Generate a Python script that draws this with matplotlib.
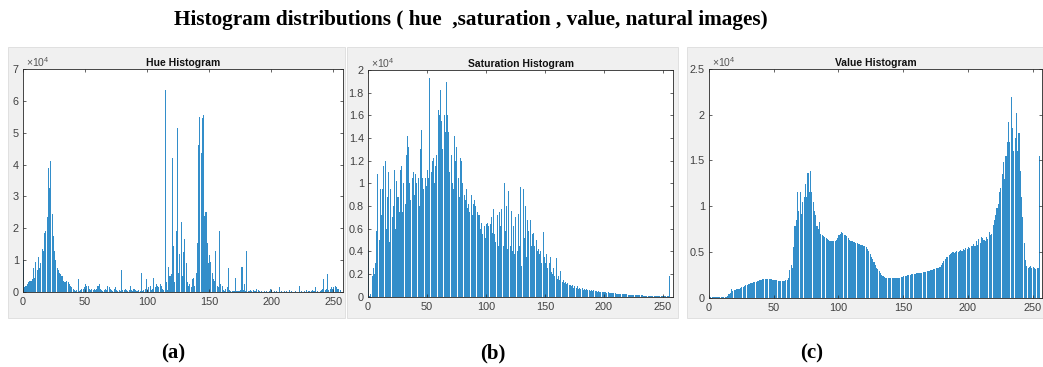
import numpy as np
import matplotlib
matplotlib.use("Agg")
import matplotlib.pyplot as plt
from matplotlib.patches import Rectangle

plt.rcParams["font.family"] = ["Liberation Sans", "DejaVu Sans"]
plt.rcParams["mathtext.fontset"] = "custom"
plt.rcParams["mathtext.rm"] = "Liberation Sans"

# counts per bin, in units of 1e4
hue_counts = [
    1.0, 0.15, 0.2, 0.25, 0.3, 0.35, 0.35, 0.4, 0.75, 0.45, 0.95, 0.7, 1.1, 0.75, 0.9, 1.35,
    1.3, 1.85, 1.9, 2.35, 3.9, 3.25, 4.1, 2.45, 1.75, 1.3, 1.0, 0.75, 0.7, 0.6, 0.55, 0.5,
    0.35, 0.3, 0.3, 0.35, 0.3, 0.25, 0.2, 0.15, 0.1, 0.05, 0.02, 0.05, 0.4, 0.03, 0.05, 0.1,
    0.1, 0.15, 0.25, 0.2, 0.2, 0.1, 0.05, 0.08, 0.05, 0.1, 0.05, 0.1, 0.2, 0.25, 0.1, 0.05,
    0.03, 0.05, 0.1, 0.05, 0.2, 0.15, 0.1, 0.05, 0.03, 0.1, 0.15, 0.05, 0.03, 0.05, 0.03, 0.7,
    0.05, 0.05, 0.08, 0.05, 0.03, 0.05, 0.2, 0.05, 0.02, 0.1, 0.05, 0.02, 0.03, 0.05, 0.02, 0.6,
    0.03, 0.05, 0.1, 0.4, 0.05, 0.15, 0.2, 0.05, 0.1, 0.45, 0.15, 0.25, 0.2, 0.15, 0.25, 0.2,
    0.1, 0.05, 6.35, 0.3, 0.05, 0.8, 0.5, 0.55, 4.2, 1.45, 0.3, 1.9, 5.15, 0.6, 1.2, 2.2,
    0.5, 1.25, 1.65, 0.9, 0.3, 0.2, 0.25, 0.15, 0.4, 0.45, 0.2, 0.6, 1.55, 4.6, 5.5, 4.35,
    5.45, 5.55, 2.4, 2.5, 1.55, 0.9, 1.15, 0.95, 0.6, 0.4, 0.35, 1.3, 0.2, 0.15, 1.9, 0.25,
    0.2, 0.05, 0.03, 0.1, 0.15, 0.75, 0.05, 0.02, 0.02, 0.03, 0.02, 0.45, 0.03, 0.02, 0.02, 0.05,
    0.8, 0.05, 0.25, 0.03, 1.3, 0.03, 0.02, 0.05, 0.02, 0.05, 0.02, 0.03, 0.1, 0.05, 0.02, 0.01,
    0.02, 0.01, 0.02, 0.01, 0.02, 0.01, 0.03, 0.1, 0.05, 0.01, 0.02, 0.01, 0.02, 0.01, 0.15, 0.01,
    0.02, 0.01, 0.02, 0.01, 0.02, 0.01, 0.05, 0.01, 0.02, 0.01, 0.01, 0.02, 0.01, 0.01, 0.2, 0.01,
    0.02, 0.01, 0.02, 0.01, 0.07, 0.01, 0.02, 0.01, 0.02, 0.07, 0.03, 0.15, 0.01, 0.02, 0.01, 0.03,
    0.05, 0.1, 0.4, 0.05, 0.1, 0.55, 0.05, 0.1, 0.15, 0.1, 0.15, 0.2, 0.15, 0.1, 0.1, 0.05,
]

sat_counts = [
    0.41, 0.01, 0.02, 0.18, 0.25, 0.2, 0.3, 0.58, 1.08, 0.5, 0.95, 0.72, 0.95, 1.15, 1.2, 0.6,
    0.88, 1.1, 0.48, 0.95, 0.7, 0.8, 1.12, 0.6, 1.02, 0.88, 0.75, 1.12, 1.15, 0.75, 1.0, 0.82,
    1.25, 1.42, 1.32, 1.0, 0.85, 1.05, 1.1, 0.9, 1.08, 1.0, 1.05, 0.8, 1.3, 1.47, 1.05, 0.95,
    1.05, 0.98, 1.12, 1.05, 1.93, 1.1, 1.2, 1.22, 1.0, 1.15, 1.25, 1.65, 1.6, 1.82, 1.55, 1.3,
    1.6, 1.45, 1.89, 1.6, 1.45, 1.1, 1.25, 1.0, 0.95, 1.42, 1.2, 1.32, 1.05, 0.88, 1.22, 1.2,
    1.0, 0.9, 0.85, 0.95, 0.78, 0.82, 0.75, 0.9, 0.72, 0.82, 0.85, 0.8, 0.75, 0.72, 0.72, 0.6,
    0.65, 0.55, 0.62, 0.52, 0.64, 0.65, 0.62, 0.64, 0.7, 0.56, 0.77, 0.55, 0.48, 0.72, 0.45, 0.75,
    0.62, 0.77, 0.45, 1.0, 0.58, 0.8, 0.42, 0.93, 0.45, 0.76, 0.4, 0.62, 0.38, 0.7, 0.4, 0.73,
    0.45, 0.97, 0.27, 0.95, 0.52, 0.8, 0.35, 0.68, 0.58, 0.68, 0.45, 0.55, 0.56, 0.45, 0.5, 0.4,
    0.42, 0.38, 0.4, 0.3, 0.57, 0.35, 0.3, 0.38, 0.25, 0.3, 0.35, 0.22, 0.2, 0.25, 0.18, 0.34,
    0.16, 0.18, 0.15, 0.23, 0.13, 0.15, 0.12, 0.13, 0.11, 0.12, 0.1, 0.1, 0.09, 0.1, 0.08, 0.09,
    0.08, 0.09, 0.07, 0.08, 0.07, 0.08, 0.06, 0.07, 0.06, 0.07, 0.06, 0.06, 0.05, 0.06, 0.05, 0.06,
    0.05, 0.05, 0.045, 0.05, 0.045, 0.045, 0.04, 0.045, 0.04, 0.04, 0.035, 0.04, 0.035, 0.035, 0.03, 0.035,
    0.03, 0.03, 0.028, 0.028, 0.025, 0.025, 0.022, 0.024, 0.02, 0.022, 0.02, 0.02, 0.018, 0.018, 0.016, 0.016,
    0.015, 0.015, 0.014, 0.013, 0.013, 0.012, 0.012, 0.011, 0.011, 0.01, 0.01, 0.01, 0.009, 0.009, 0.008, 0.008,
    0.008, 0.007, 0.007, 0.006, 0.006, 0.006, 0.005, 0.005, 0.005, 0.004, 0.004, 0.004, 0.003, 0.003, 0.003, 0.18,
]

val_counts = [
    0.003, 0.003, 0.003, 0.003, 0.003, 0.003, 0.003, 0.003, 0.003, 0.003, 0.003, 0.003, 0.003, 0.005, 0.02, 0.04,
    0.05, 0.09, 0.07, 0.08, 0.08, 0.09, 0.1, 0.1, 0.11, 0.12, 0.12, 0.13, 0.14, 0.14, 0.15, 0.15,
    0.16, 0.16, 0.17, 0.17, 0.17, 0.18, 0.18, 0.19, 0.19, 0.2, 0.2, 0.2, 0.2, 0.2, 0.2, 0.2,
    0.2, 0.19, 0.19, 0.19, 0.19, 0.18, 0.18, 0.18, 0.18, 0.18, 0.18, 0.19, 0.19, 0.22, 0.3, 0.36,
    0.33, 0.55, 0.78, 0.85, 1.16, 0.95, 1.16, 0.92, 1.05, 1.1, 1.24, 1.1, 1.36, 1.15, 1.39, 1.15,
    1.05, 0.95, 0.9, 0.78, 0.75, 0.83, 0.7, 0.68, 0.67, 0.66, 0.65, 0.64, 0.63, 0.62, 0.62, 0.62,
    0.62, 0.62, 0.63, 0.65, 0.68, 0.7, 0.72, 0.71, 0.69, 0.68, 0.67, 0.65, 0.63, 0.62, 0.62, 0.61,
    0.61, 0.6, 0.6, 0.59, 0.59, 0.58, 0.58, 0.57, 0.56, 0.55, 0.53, 0.51, 0.48, 0.45, 0.42, 0.39,
    0.36, 0.33, 0.31, 0.29, 0.27, 0.25, 0.24, 0.23, 0.22, 0.22, 0.21, 0.21, 0.21, 0.21, 0.21, 0.21,
    0.21, 0.22, 0.22, 0.22, 0.23, 0.23, 0.24, 0.24, 0.24, 0.25, 0.25, 0.25, 0.26, 0.26, 0.26, 0.26,
    0.27, 0.27, 0.27, 0.27, 0.27, 0.28, 0.28, 0.28, 0.29, 0.29, 0.29, 0.3, 0.3, 0.31, 0.31, 0.32,
    0.32, 0.33, 0.34, 0.36, 0.38, 0.4, 0.42, 0.44, 0.45, 0.47, 0.48, 0.49, 0.5, 0.49, 0.5, 0.51,
    0.5, 0.51, 0.52, 0.51, 0.53, 0.52, 0.54, 0.53, 0.55, 0.54, 0.57, 0.56, 0.59, 0.57, 0.62, 0.58,
    0.64, 0.6, 0.66, 0.65, 0.63, 0.62, 0.66, 0.64, 0.72, 0.68, 0.7, 0.8, 0.85, 0.9, 0.98, 1.02,
    1.15, 1.2, 1.35, 1.48, 1.3, 1.55, 1.7, 1.92, 1.7, 2.19, 1.85, 1.6, 1.75, 2.02, 1.6, 1.8,
    1.39, 1.1, 0.88, 0.6, 0.41, 0.35, 0.33, 0.34, 0.35, 0.33, 0.34, 0.32, 0.31, 0.33, 0.32, 1.55,
]

panel_titles = ["Hue Histogram", "Saturation Histogram", "Value Histogram"]
y_ticks = [np.arange(0, 7.01, 1), np.arange(0, 2.01, 0.2), np.arange(0, 2.51, 0.5)]
y_limits = [7, 2, 2.5]
x_limits = [257.8, 258.5, 257.5]
sub_labels = ["(a)", "(b)", "(c)"]

W, H = 1043, 367
fig = plt.figure(figsize=(W / 100, H / 100), dpi=100)
fig.patch.set_facecolor("white")

def box(x0, y0, x1, y1):
    # pixel box (top-left origin) -> figure fraction rect
    return [x0 / W, 1 - y1 / H, (x1 - x0) / W, (y1 - y0) / H]

# grey MATLAB figure backgrounds
for x0, x1 in [(8, 345), (347, 678), (687, 1043)]:
    r = box(x0, 47, x1, 318)
    fig.patches.append(Rectangle((r[0], r[1]), r[2], r[3], transform=fig.transFigure,
                                 facecolor="#f0f0f0", edgecolor="#dcdcdc", lw=0.6, zorder=-5))

axes_px = [(23, 69, 343, 292), (368, 70, 673, 296.7), (709, 69, 1042.4, 297.7)]
data = [hue_counts, sat_counts, val_counts]
ink = "#262626"

for i in range(3):
    ax = fig.add_axes(box(*axes_px[i]))
    ax.set_facecolor("white")
    vals = np.array(data[i])
    ax.bar(np.arange(len(vals)), vals, width=0.85, color="#0072BD", alpha=0.8,
           linewidth=0, align="edge")
    ax.set_xlim(0, x_limits[i])
    ax.set_ylim(0, y_limits[i])
    ax.set_xticks([0, 50, 100, 150, 200, 250])
    ax.set_yticks(y_ticks[i])
    ax.set_yticklabels(["%g" % round(t, 2) for t in y_ticks[i]])
    ax.tick_params(direction="in", length=2.5, width=0.5, color=ink, labelcolor="#404040",
                   labelsize=7.8, top=True, right=True)
    ax.tick_params(axis="x", pad=3.5)
    ax.tick_params(axis="y", pad=3)
    for s in ax.spines.values():
        s.set_color(ink)
        s.set_linewidth(0.6)
    ax.set_title(panel_titles[i], fontsize=7.5, fontweight="bold", color="#111111", pad=2)
    ax.text(0.01, 1.0, r"$\times 10^{4}$", transform=ax.transAxes, fontsize=7.5,
            color="#555555", va="bottom", ha="left")

fig.text(471 / W, 1 - 20 / H, "Histogram distributions ( hue  ,saturation , value, natural images)",
         fontsize=15.3, fontweight="bold", family="Liberation Serif", ha="center", va="center")
for x, lab in zip([173, 493, 812], sub_labels):
    fig.text(x / W, 1 - 353 / H, lab, fontsize=15, fontweight="bold",
             family="Liberation Serif", ha="center", va="center")

fig.savefig("out.png", dpi=100)
